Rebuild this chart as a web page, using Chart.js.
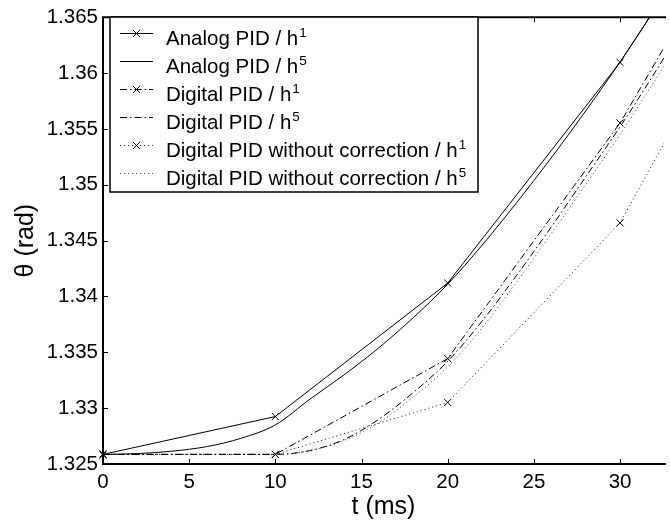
<!DOCTYPE html>
<html>
<head>
<meta charset="utf-8">
<script src="https://cdn.jsdelivr.net/npm/chart.js@4.4.1/dist/chart.umd.min.js"></script>
<style>
  html, body { margin: 0; padding: 0; background: #fff; }
  canvas { display: block; }
</style>
</head>
<body>
<canvas id="thetaChart" width="670" height="522"></canvas>
<script>
// time axes (ms): controller steps h and simulation steps h/5
const tStepH1 = [0, 10, 20, 30, 40];
const tStepH5 = [0, 2, 4, 6, 8, 10, 12, 14, 16, 18, 20, 22, 24, 26, 28, 30, 32, 34];

// theta (rad)
const analogH1 = [1.32586, 1.32925, 1.3412, 1.36096, 1.3845];
const analogH5 = [1.32586, 1.32593, 1.32615, 1.32655, 1.3273, 1.3285, 1.3308, 1.3330, 1.3354, 1.3381, 1.3411,
                  1.3446, 1.3484, 1.3524, 1.3566, 1.3610, 1.3657, 1.3706];
const digitalH1 = [1.32586, 1.32586, 1.33444, 1.35553, 1.3820];
const digitalH5 = [1.32586, 1.32586, 1.32586, 1.32586, 1.32586, 1.32586, 1.3262, 1.3272, 1.3290, 1.3314, 1.3342,
                   1.3378, 1.3419, 1.3462, 1.3507, 1.3552, 1.3600, 1.3650];
const noCorrH1 = [1.32586, 1.32586, 1.33051, 1.34659, 1.3745];
const noCorrH5 = [1.32586, 1.32586, 1.32586, 1.32586, 1.32586, 1.32586, 1.3262, 1.3271, 1.3287, 1.3310, 1.3337,
                  1.3372, 1.3413, 1.3456, 1.3500, 1.3545, 1.3593, 1.3642];

const xTicks = [0, 5, 10, 15, 20, 25, 30];
const yTicks = [1.325, 1.33, 1.335, 1.34, 1.345, 1.35, 1.355, 1.36, 1.365];

const labels = [
    ['Analog PID / h', '1'],
    ['Analog PID / h', '5'],
    ['Digital PID / h', '1'],
    ['Digital PID / h', '5'],
    ['Digital PID without correction / h', '1'],
    ['Digital PID without correction / h', '5']
];

const FONT = "'Liberation Sans', Arial, Helvetica, sans-serif";
const DASHDOT = [7, 3, 1.5, 3];
const DOTTED = [1.2, 2.8];
const MARK = 5;

function pts(ts, vs) {
    return ts.map((t, i) => ({ x: t, y: vs[i] }));
}

function series(idx, ts, vs, dash, color, marker) {
    return {
        label: labels[idx].join(''),
        data: pts(ts, vs),
        borderColor: color,
        backgroundColor: color,
        borderWidth: 1,
        borderDash: dash,
        pointStyle: 'crossRot',
        pointRadius: marker ? MARK : 0,
        pointBorderWidth: 1,
        pointBorderColor: '#000',
        tension: 0,
        cubicInterpolationMode: marker ? 'default' : 'monotone',
        clip: { left: 10, top: 0, right: 0, bottom: 10 }
    };
}

// MATLAB-like legend box inside the axes
const legendBox = {
    id: 'legendBox',
    afterDraw(chart) {
        const ctx = chart.ctx;
        const bx = 110, by = 17, bw = 368, bh = 175;
        ctx.save();
        ctx.fillStyle = '#fff';
        ctx.fillRect(bx, by, bw, bh);
        ctx.strokeStyle = '#000';
        ctx.lineWidth = 1.5;
        ctx.strokeRect(bx, by, bw, bh);
        chart.data.datasets.forEach((ds, i) => {
            const base = 45 + i * 28;
            const ly = base - 11.5;
            ctx.setLineDash(ds.borderDash || []);
            ctx.strokeStyle = ds.borderColor;
            ctx.lineWidth = 1;
            ctx.beginPath();
            ctx.moveTo(120, ly);
            ctx.lineTo(153, ly);
            ctx.stroke();
            ctx.setLineDash([]);
            if (ds.pointRadius > 0) {
                const r = MARK * Math.SQRT1_2;
                ctx.strokeStyle = '#000';
                ctx.beginPath();
                ctx.moveTo(136.5 - r, ly - r); ctx.lineTo(136.5 + r, ly + r);
                ctx.moveTo(136.5 - r, ly + r); ctx.lineTo(136.5 + r, ly - r);
                ctx.stroke();
            }
            ctx.fillStyle = '#000';
            ctx.textBaseline = 'alphabetic';
            ctx.textAlign = 'left';
            ctx.font = '20.5px ' + FONT;
            ctx.fillText(labels[i][0], 166, base);
            const w = ctx.measureText(labels[i][0]).width;
            ctx.font = '13.5px ' + FONT;
            ctx.fillText(labels[i][1], 166 + w + 1, base - 8);
        });
        ctx.restore();
    }
};

// axes box with inward ticks
const axesFrame = {
    id: 'axesFrame',
    beforeDatasetsDraw(chart) {
        const { left, right, top, bottom } = chart.chartArea;
        const ctx = chart.ctx;
        const xs = chart.scales.x, ys = chart.scales.y;
        ctx.save();
        ctx.strokeStyle = '#000';
        ctx.lineWidth = 1;
        ctx.beginPath();
        xTicks.forEach(v => {
            const px = Math.round(xs.getPixelForValue(v)) + 0.5;
            ctx.moveTo(px, bottom); ctx.lineTo(px, bottom - 5);
            ctx.moveTo(px, top); ctx.lineTo(px, top + 5);
        });
        yTicks.forEach(v => {
            const py = Math.round(ys.getPixelForValue(v)) + 0.5;
            ctx.moveTo(left, py); ctx.lineTo(left + 5, py);
        });
        ctx.stroke();
        ctx.lineWidth = 2;
        ctx.beginPath();
        ctx.moveTo(right + 2, top);
        ctx.lineTo(left, top);
        ctx.lineTo(left, bottom);
        ctx.lineTo(right + 2, bottom);
        ctx.stroke();
        ctx.restore();
    }
};

new Chart(document.getElementById('thetaChart'), {
    type: 'line',
    data: {
        datasets: [
            series(0, tStepH1, analogH1, [], '#000', true),
            series(1, tStepH5, analogH5, [], '#000', false),
            series(2, tStepH1, digitalH1, DASHDOT, '#000', true),
            series(3, tStepH5, digitalH5, DASHDOT, '#000', false),
            series(4, tStepH1, noCorrH1, DOTTED, '#333', true),
            series(5, tStepH5, noCorrH5, DOTTED, '#555', false)
        ]
    },
    options: {
        responsive: false,
        animation: false,
        layout: { padding: { top: 11, right: 0, left: 0, bottom: 0 } },
        plugins: {
            legend: { display: false },
            tooltip: { enabled: false }
        },
        scales: {
            x: {
                type: 'linear',
                min: 0,
                max: 32.55,
                grid: { display: false, drawTicks: false },
                border: { display: false },
                afterFit: s => { s.height = 58; },
                afterBuildTicks: s => { s.ticks = xTicks.map(v => ({ value: v })); },
                ticks: {
                    padding: 6,
                    color: '#000',
                    maxRotation: 0,
                    font: { family: FONT, size: 20.5 },
                    callback: v => String(v)
                },
                title: {
                    display: true,
                    text: 't (ms)',
                    color: '#000',
                    font: { family: FONT, size: 25 },
                    padding: { top: 2, bottom: 0 }
                }
            },
            y: {
                min: 1.325,
                max: 1.365,
                grid: { display: false, drawTicks: false },
                border: { display: false },
                afterFit: s => { s.width = 103; },
                afterBuildTicks: s => { s.ticks = yTicks.map(v => ({ value: v })); },
                ticks: {
                    padding: 5,
                    color: '#000',
                    font: { family: FONT, size: 20.5 },
                    callback: v => String(Number(v.toFixed(3)))
                },
                title: {
                    display: true,
                    text: 'θ (rad)',
                    color: '#000',
                    font: { family: FONT, size: 25 },
                    padding: { top: 11, bottom: 0 }
                }
            }
        }
    },
    plugins: [axesFrame, legendBox]
});
</script>
</body>
</html>
